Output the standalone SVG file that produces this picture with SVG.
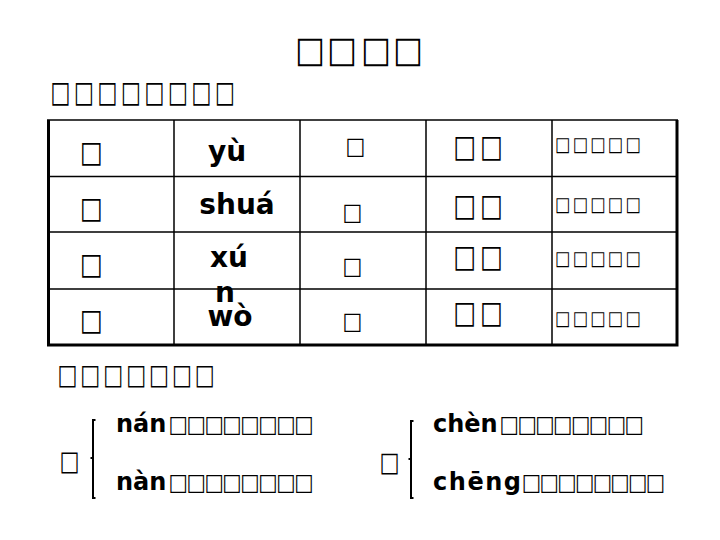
<svg xmlns="http://www.w3.org/2000/svg" width="720" height="540" viewBox="0 0 720 540">
<style>
.t{font-family:"DejaVu Sans",sans-serif;fill:#000}
.b{font-weight:bold}
.py{font-family:"DejaVu Sans",sans-serif;font-weight:bold;fill:#000}
.ln{stroke:#000;stroke-width:1.5;fill:none}
.ob{stroke:#000;stroke-width:3;fill:none}
.br{stroke:#000;stroke-width:2;fill:none}
</style>
<rect width="720" height="540" fill="#fff"/>
<g id="title"><text class="t b" font-size="36.6" transform="scale(0.865 1)" x="341.3 378.3 417.6 454.6" y="62.5">□□□□</text></g>
<g id="subtitle"><text class="t b" font-size="29.6" transform="scale(0.714 1)" x="70.3 103.2 136.1 169 202 234.8 267.8 300.7" y="102">□□□□□□□□</text></g>
<g id="table">
<path class="ln" d="M174 120V346M300 120V346M426 120V346M552 120V346M47 176.5H678M47 232H678M47 289H678"/>
<path class="ln" d="M47 120H678" stroke-width="2"/>
<path class="ob" d="M48.5 120V345H677V120"/>
</g>
<g id="col1" class="t" font-size="29.6">
<text transform="scale(0.81 1)" x="98.5" y="162.2">□</text><text transform="scale(0.81 1)" x="98.5" y="218.2">□</text><text transform="scale(0.81 1)" x="98.5" y="274.2">□</text><text transform="scale(0.81 1)" x="98.5" y="330.2">□</text>
</g>
<g id="col2" class="py" font-size="28" text-anchor="middle">
<text x="227" y="161">yù</text><text x="237" y="214">shuá</text><text x="229" y="267">xú</text><text x="225" y="302">n</text><text x="230" y="326">wò</text>
</g>
<g id="col3" class="t" font-size="23.9">
<text transform="scale(0.882 1)" x="391.7" y="153.6">□</text><text transform="scale(0.882 1)" x="388.3" y="219.6">□</text><text transform="scale(0.882 1)" x="388.3" y="273.6">□</text><text transform="scale(0.882 1)" x="388.3" y="328.6">□</text>
</g>
<g id="col4" class="t b" font-size="31">
<text transform="scale(0.773 1)" x="586.2 621.1" y="156.6">□□</text><text transform="scale(0.773 1)" x="586.2 621.1" y="215.6">□□</text><text transform="scale(0.773 1)" x="586.2 621.1" y="266.6">□□</text><text transform="scale(0.773 1)" x="586.2 621.1" y="322.6">□□</text>
</g>
<g id="col5" class="t" font-size="19.7">
<text transform="scale(0.821 1)" x="676.1 697.5 719 740.4 761.8" y="150.8">□□□□□</text><text transform="scale(0.821 1)" x="676.1 697.5 719 740.4 761.8" y="210.8">□□□□□</text><text transform="scale(0.821 1)" x="676.1 697.5 719 740.4 761.8" y="264.8">□□□□□</text><text transform="scale(0.821 1)" x="676.1 697.5 719 740.4 761.8" y="324.8">□□□□□</text>
</g>
<g id="heading2"><text class="t b" font-size="28.2" transform="scale(0.75 1)" x="76.6 107.1 137.7 168.2 198.7 229.3 259.8" y="384">□□□□□□□</text></g>
<g id="group1">
<text class="t" font-size="27.5" transform="scale(0.77 1)" x="77.2" y="470.5">□</text>
<path class="br" d="M95.5 420H93V498H95.5M93 458H90.5"/>
<text class="py" font-size="24" x="116" y="432">nán</text>
<text class="t" font-size="23.2" transform="scale(0.88 1)" x="191.5 211.9 232.3 252.7 273.1 293.5 313.9 334.3" y="431.6">□□□□□□□□</text>
<text class="py" font-size="24" x="116" y="490">nàn</text>
<text class="t" font-size="23.2" transform="scale(0.88 1)" x="191.5 211.9 232.3 252.7 273.1 293.5 313.9 334.3" y="489.6">□□□□□□□□</text>
</g>
<g id="group2">
<text class="t" font-size="26.8" transform="scale(0.79 1)" x="480.3" y="471">□</text>
<path class="br" d="M413.5 421H411V498H413.5M411 459H408.5"/>
<text class="py" font-size="24" x="433" y="432">chèn</text>
<text class="t" font-size="23.2" transform="scale(0.88 1)" x="567.7 588 608.2 628.5 648.8 669.1 689.4 709.7" y="431.6">□□□□□□□□</text>
<text class="py" font-size="24" x="433" y="490" textLength="88" lengthAdjust="spacing">chēng</text>
<text class="t" font-size="23.2" transform="scale(0.88 1)" x="593 613.1 633.2 653.3 673.5 693.6 713.7 733.8" y="489.6">□□□□□□□□</text>
</g>
</svg>
